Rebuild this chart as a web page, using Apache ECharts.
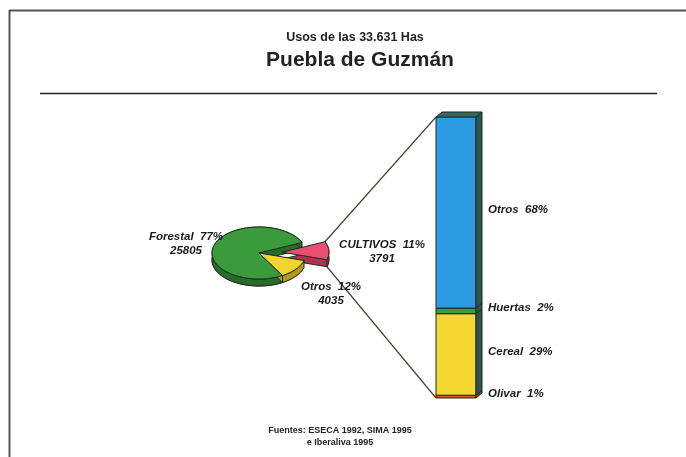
<!DOCTYPE html>
<html>
<head>
<meta charset="utf-8">
<script src="https://cdn.jsdelivr.net/npm/echarts@6/dist/echarts.min.js"></script>
<style>
  html, body { margin: 0; padding: 0; background: #fff; }
  #chart { width: 686px; height: 457px; }
</style>
</head>
<body>
<div id="chart"></div>
<script>
// pie: land use of the municipality (hectares)
const pieNames = ['Forestal', 'CULTIVOS', 'Otros'];
const pieValues = [25805, 3791, 4035];
const piePercents = [77, 11, 12];
// stacked bar: breakdown of CULTIVOS (%), bottom to top
const barNames = ['Olivar', 'Cereal', 'Huertas', 'Otros'];
const barValues = [1, 29, 2, 68];

const pieColors = ['#3b9a3c', '#e9506f', '#f2d52e'];
const pieSides = ['#286c2a', '#ad3350', '#b59a1a'];
const barColors = ['#c75a3a', '#f6d72f', '#3d9a4a', '#2c9be2'];
const outline = '#1f2a1f';
const labelFont = { fontFamily: 'Liberation Sans', fontWeight: 'bold', fontStyle: 'italic', fontSize: 11.5 };

// tilted pie geometry
const pie = { cx: 259, cy: 253, rx: 47, ry: 26, depth: 7, startDeg: -60, explode: 23 };
const drawOrder = [2, 1, 0];           // counter-clockwise from startDeg
const labelAt = [[186, 244], [382, 252], [331, 294]];

const total = pieValues.reduce((a, b) => a + b, 0);
function sliceAngles(i) {
  let start = pie.startDeg;
  for (const j of drawOrder) {
    const span = 360 * pieValues[j] / total;
    if (j === i) return [start, start + span];
    start += span;
  }
}
function sliceOffset(i) {
  if (i !== 1) return [0, 0];
  const [a1, a2] = sliceAngles(i);
  const m = (a1 + a2) / 2 * Math.PI / 180;
  return [pie.explode * Math.cos(m), -pie.explode * Math.sin(m) * pie.ry / pie.rx];
}
function rimPoint(t, off, dy) {
  const r = t * Math.PI / 180;
  return [pie.cx + off[0] + pie.rx * Math.cos(r), pie.cy + off[1] - pie.ry * Math.sin(r) + (dy || 0)];
}
function arc(a1, a2, off, dy) {
  const pts = [];
  const n = Math.max(4, Math.ceil((a2 - a1) / 2));
  for (let k = 0; k <= n; k++) pts.push(rimPoint(a1 + (a2 - a1) * k / n, off, dy));
  return pts;
}

// stacked bar segments [category, start, end]
const barData = [];
let acc = 0;
barValues.forEach(v => { barData.push([0, acc, acc + v]); acc += v; });

let chart = echarts.init(document.getElementById('chart'));

let option = {
  backgroundColor: '#ffffff',
  animation: false,
  grid: { left: 436, top: 117, width: 40, height: 281 },
  xAxis: { type: 'category', data: ['CULTIVOS'], show: false },
  yAxis: { type: 'value', min: 0, max: 100, show: false },
  graphic: [
    { type: 'line', shape: { x1: 9, y1: 10.5, x2: 686, y2: 10.5 }, style: { stroke: '#555', lineWidth: 2 } },
    { type: 'line', shape: { x1: 9.5, y1: 10, x2: 9.5, y2: 457 }, style: { stroke: '#555', lineWidth: 2 } },
    { type: 'text', x: 355, y: 38, style: { text: 'Usos de las 33.631 Has', fill: '#222', align: 'center', verticalAlign: 'middle', fontFamily: 'Liberation Sans', fontWeight: 'bold', fontSize: 12.5 } },
    { type: 'text', x: 360, y: 60, style: { text: 'Puebla de Guzmán', fill: '#222', align: 'center', verticalAlign: 'middle', fontFamily: 'Liberation Sans', fontWeight: 'bold', fontSize: 21 } },
    { type: 'line', shape: { x1: 40, y1: 93.5, x2: 657, y2: 93.5 }, style: { stroke: '#222', lineWidth: 1.6 } },
    { type: 'text', x: 340, y: 437, style: { text: 'Fuentes: ESECA 1992, SIMA 1995\ne Iberaliva 1995', fill: '#222', align: 'center', verticalAlign: 'middle', lineHeight: 12, fontFamily: 'Liberation Sans', fontWeight: 'bold', fontSize: 9 } }
  ],
  series: [
    {
      type: 'custom',
      name: 'Usos',
      coordinateSystem: 'none',
      data: pieValues.map(v => [v]),
      renderItem: function (params, api) {
        const i = params.dataIndex;
        const [a1, a2] = sliceAngles(i);
        const off = sliceOffset(i);
        const centre = [pie.cx + off[0], pie.cy + off[1]];
        const top = [centre].concat(arc(a1, a2, off, 0));
        const base = top.map(p => [p[0], p[1] + pie.depth]);
        const wall = arc(a1, a2, off, 0).concat(arc(a1, a2, off, pie.depth).reverse());
        const pos = labelAt[i];
        return {
          type: 'group',
          children: [
            { type: 'polygon', z2: 1, shape: { points: base }, style: { fill: pieSides[i], stroke: outline, lineWidth: 1 } },
            { type: 'polygon', z2: 1, shape: { points: wall }, style: { fill: pieSides[i], stroke: outline, lineWidth: 1 } },
            { type: 'polygon', z2: 2, shape: { points: top }, style: { fill: pieColors[i], stroke: outline, lineWidth: 1 } },
            { type: 'text', z2: 5, x: pos[0], y: pos[1], style: Object.assign({
                text: pieNames[i] + '  ' + piePercents[i] + '%\n' + api.value(0),
                fill: '#1a1a1a', align: 'center', verticalAlign: 'middle', lineHeight: 14 }, labelFont) }
          ]
        };
      }
    },
    {
      type: 'custom',
      name: 'CULTIVOS',
      data: barData,
      renderItem: function (params, api) {
        const i = params.dataIndex;
        const lo = api.coord([0, api.value(1)]);
        const hi = api.coord([0, api.value(2)]);
        const w = api.size([1, 0])[0];
        const x0 = lo[0] - w / 2;
        const dx = 6, dy = -5;
        const kids = [
          { type: 'rect', z2: 2, shape: { x: x0, y: hi[1], width: w, height: lo[1] - hi[1] }, style: { fill: barColors[i], stroke: outline, lineWidth: 1 } },
          { type: 'polygon', z2: 2, shape: { points: [[x0 + w, hi[1]], [x0 + w + dx, hi[1] + dy], [x0 + w + dx, lo[1] + dy], [x0 + w, lo[1]]] }, style: { fill: '#2c5450', stroke: outline, lineWidth: 1 } },
          { type: 'text', z2: 5, x: x0 + w + 12, y: (lo[1] + hi[1]) / 2 - 3, style: Object.assign({
              text: barNames[i] + '  ' + (api.value(2) - api.value(1)) + '%', fill: '#1a1a1a', align: 'left', verticalAlign: 'middle' }, labelFont) }
        ];
        const [c1, c2] = sliceAngles(1);
        const off = sliceOffset(1);
        if (i === barData.length - 1) {
          kids.push({ type: 'polygon', z2: 2, shape: { points: [[x0, hi[1]], [x0 + dx, hi[1] + dy], [x0 + w + dx, hi[1] + dy], [x0 + w, hi[1]]] }, style: { fill: '#2f6a68', stroke: outline, lineWidth: 1 } });
          const p = rimPoint(c2, off, 0);
          kids.push({ type: 'line', z2: 0, shape: { x1: p[0], y1: p[1], x2: x0, y2: hi[1] }, style: { stroke: '#4a4234', lineWidth: 1.2 } });
        }
        if (i === 0) {
          const p = rimPoint(c1, off, pie.depth);
          kids.push({ type: 'line', z2: 0, shape: { x1: p[0], y1: p[1], x2: x0, y2: lo[1] }, style: { stroke: '#4a4234', lineWidth: 1.2 } });
        }
        return { type: 'group', children: kids };
      }
    }
  ]
};
chart.setOption(option);
</script>
</body>
</html>
